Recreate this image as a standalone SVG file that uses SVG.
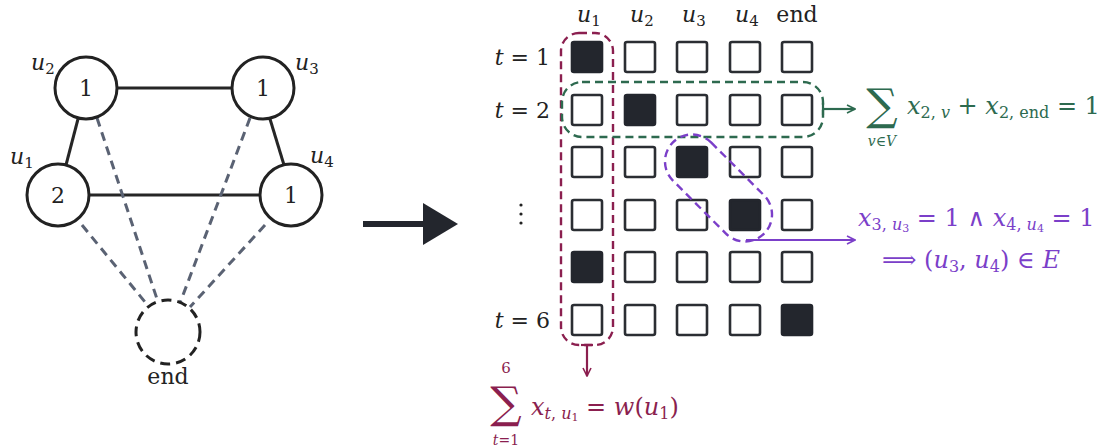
<svg xmlns="http://www.w3.org/2000/svg" width="1106" height="448" viewBox="0 0 1106 448">
<defs>
<style>
.node{fill:#fff;stroke:#222;stroke-width:3}
.edge{stroke:#262626;stroke-width:3;fill:none}
.dedge{stroke:#5a6273;stroke-width:3;fill:none;stroke-dasharray:9 6}
.cell{fill:#fff;stroke:#2b2e33;stroke-width:2.6}
.on{fill:#23262d;stroke:#23262d;stroke-width:2.6}
text{font-family:'DejaVu Serif',serif;fill:#222}
.i{font-style:italic}
.num{font-size:22px;text-anchor:middle}
.red{fill:#8b1f4f}
.grn{fill:#2d6a4f}
.pur{fill:#7b3fc9}
</style>
<marker id="ar" viewBox="0 0 10 10" refX="9" refY="5" markerWidth="10" markerHeight="10" markerUnits="userSpaceOnUse" orient="auto">
<path d="M1,1 L9,5 L1,9" fill="none" stroke="context-stroke" stroke-width="1.6"/>
</marker>
</defs>
<rect width="1106" height="448" fill="#fff"/>

<g id="connectors">
<line class="edge" x1="118" y1="88" x2="231" y2="88"/>
<line class="edge" x1="90" y1="195" x2="259" y2="195"/>
<line class="edge" x1="78" y1="119" x2="66" y2="165"/>
<line class="edge" x1="270" y1="119" x2="284" y2="165"/>
<line class="dedge" x1="97" y1="118" x2="158" y2="302"/>
<line class="dedge" x1="250" y1="118" x2="180" y2="303"/>
<line class="dedge" x1="82" y1="225" x2="145" y2="302"/>
<line class="dedge" x1="265" y1="225" x2="190" y2="307"/>
</g>

<g id="u2"><circle class="node" cx="86" cy="88" r="31"/><text class="num" x="86" y="96">1</text>
<text class="i" x="31" y="70" font-size="22">u<tspan font-size="15" dy="4" font-style="normal">2</tspan></text></g>
<g id="u3"><circle class="node" cx="263" cy="88" r="31"/><text class="num" x="263" y="96">1</text>
<text class="i" x="295" y="70" font-size="22">u<tspan font-size="15" dy="4" font-style="normal">3</tspan></text></g>
<g id="u1"><circle class="node" cx="58" cy="195" r="31"/><text class="num" x="58" y="203">2</text>
<text class="i" x="10" y="164" font-size="22">u<tspan font-size="15" dy="4" font-style="normal">1</tspan></text></g>
<g id="u4"><circle class="node" cx="291" cy="195" r="31"/><text class="num" x="291" y="203">1</text>
<text class="i" x="310" y="163" font-size="22">u<tspan font-size="15" dy="4" font-style="normal">4</tspan></text></g>
<g id="end"><circle cx="168" cy="332" r="32" fill="#fff" stroke="#222" stroke-width="3" stroke-dasharray="10 6"/>
<text x="168" y="384" font-size="22" text-anchor="middle">end</text></g>

<g id="big-arrow">
<rect x="363" y="221" width="62" height="6" fill="#23262d"/>
<polygon points="423,203 458,224 423,245" fill="#23262d"/>
</g>

<g id="headers">
<text class="i" x="577" y="22" font-size="22">u<tspan font-size="15" dy="4" font-style="normal">1</tspan></text>
<text class="i" x="630" y="22" font-size="22">u<tspan font-size="15" dy="4" font-style="normal">2</tspan></text>
<text class="i" x="682" y="22" font-size="22">u<tspan font-size="15" dy="4" font-style="normal">3</tspan></text>
<text class="i" x="735" y="22" font-size="22">u<tspan font-size="15" dy="4" font-style="normal">4</tspan></text>
<text x="797" y="22" font-size="22" text-anchor="middle">end</text>
<text x="550" y="65" font-size="22" text-anchor="end"><tspan font-style="italic">t</tspan> = 1</text>
<text x="550" y="118" font-size="22" text-anchor="end"><tspan font-style="italic">t</tspan> = 2</text>
<text x="550" y="328" font-size="22" text-anchor="end"><tspan font-style="italic">t</tspan> = 6</text>
<circle cx="521" cy="205" r="1.6" fill="#222"/><circle cx="521" cy="214" r="1.6" fill="#222"/><circle cx="521" cy="223" r="1.6" fill="#222"/>
</g>

<g id="grid">
<rect class="on" x="572" y="42" width="30" height="30" rx="2"/>
<rect class="cell" x="625" y="42" width="30" height="30" rx="2"/>
<rect class="cell" x="677" y="42" width="30" height="30" rx="2"/>
<rect class="cell" x="730" y="42" width="30" height="30" rx="2"/>
<rect class="cell" x="782" y="42" width="30" height="30" rx="2"/>
<rect class="cell" x="572" y="95" width="30" height="30" rx="2"/>
<rect class="on" x="625" y="95" width="30" height="30" rx="2"/>
<rect class="cell" x="677" y="95" width="30" height="30" rx="2"/>
<rect class="cell" x="730" y="95" width="30" height="30" rx="2"/>
<rect class="cell" x="782" y="95" width="30" height="30" rx="2"/>
<rect class="cell" x="572" y="147" width="30" height="30" rx="2"/>
<rect class="cell" x="625" y="147" width="30" height="30" rx="2"/>
<rect class="on" x="677" y="147" width="30" height="30" rx="2"/>
<rect class="cell" x="730" y="147" width="30" height="30" rx="2"/>
<rect class="cell" x="782" y="147" width="30" height="30" rx="2"/>
<rect class="cell" x="572" y="200" width="30" height="30" rx="2"/>
<rect class="cell" x="625" y="200" width="30" height="30" rx="2"/>
<rect class="cell" x="677" y="200" width="30" height="30" rx="2"/>
<rect class="on" x="730" y="200" width="30" height="30" rx="2"/>
<rect class="cell" x="782" y="200" width="30" height="30" rx="2"/>
<rect class="on" x="572" y="252" width="30" height="30" rx="2"/>
<rect class="cell" x="625" y="252" width="30" height="30" rx="2"/>
<rect class="cell" x="677" y="252" width="30" height="30" rx="2"/>
<rect class="cell" x="730" y="252" width="30" height="30" rx="2"/>
<rect class="cell" x="782" y="252" width="30" height="30" rx="2"/>
<rect class="cell" x="572" y="305" width="30" height="30" rx="2"/>
<rect class="cell" x="625" y="305" width="30" height="30" rx="2"/>
<rect class="cell" x="677" y="305" width="30" height="30" rx="2"/>
<rect class="cell" x="730" y="305" width="30" height="30" rx="2"/>
<rect class="on" x="782" y="305" width="30" height="30" rx="2"/>
</g>

<g id="red-group">
<rect x="561" y="33" width="52" height="312" rx="18" fill="none" stroke="#8b1f4f" stroke-width="2.4" stroke-dasharray="8 5"/>
<line x1="587" y1="345" x2="587" y2="376" stroke="#8b1f4f" stroke-width="2.2" marker-end="url(#ar)"/>
<line x1="581" y1="345" x2="593" y2="345" stroke="#8b1f4f" stroke-width="2.2"/>
<text class="red" x="506" y="373" font-size="15" text-anchor="middle">6</text>
<text class="red" x="506" y="418" font-size="44" text-anchor="middle">∑</text>
<text class="red" x="506" y="445" font-size="14" text-anchor="middle"><tspan font-style="italic">t</tspan>=1</text>
<text class="red" x="531" y="415" font-size="24"><tspan font-style="italic">x</tspan><tspan font-size="16" dy="4"><tspan font-style="italic">t</tspan>, <tspan font-style="italic">u</tspan></tspan><tspan font-size="11" dy="2">1</tspan><tspan dy="-6"> = </tspan><tspan font-style="italic">w</tspan>(<tspan font-style="italic">u</tspan><tspan font-size="16" dy="4">1</tspan><tspan dy="-4">)</tspan></text>
</g>

<g id="green-group">
<rect x="562" y="82" width="261" height="55" rx="20" fill="none" stroke="#2d6a4f" stroke-width="2.4" stroke-dasharray="8 5"/>
<line x1="823" y1="109" x2="855" y2="109" stroke="#2d6a4f" stroke-width="2.2" marker-end="url(#ar)"/>
<line x1="823" y1="103" x2="823" y2="115" stroke="#2d6a4f" stroke-width="2.2"/>
<text class="grn" x="882" y="120" font-size="44" text-anchor="middle">∑</text>
<text class="grn" x="882" y="146" font-size="14" text-anchor="middle"><tspan font-style="italic">v</tspan>∈<tspan font-style="italic">V</tspan></text>
<text class="grn" x="907" y="114" font-size="24"><tspan font-style="italic">x</tspan><tspan font-size="16" dy="4">2, <tspan font-style="italic">v</tspan></tspan><tspan dy="-4"> + </tspan><tspan font-style="italic">x</tspan><tspan font-size="16" dy="4">2, end</tspan><tspan dy="-4"> = 1</tspan></text>
</g>

<g id="purple-group">
<rect x="654" y="161" width="129" height="54" rx="27" fill="none" stroke="#7b3fc9" stroke-width="2.4" stroke-dasharray="8 5" transform="rotate(45 718.5 188)"/>
<line x1="746" y1="240" x2="855" y2="240" stroke="#7b3fc9" stroke-width="2.2" marker-end="url(#ar)"/>
<text class="pur" x="858" y="226" font-size="24"><tspan font-style="italic">x</tspan><tspan font-size="16" dy="4">3, <tspan font-style="italic">u</tspan></tspan><tspan font-size="11" dy="2">3</tspan><tspan dy="-6"> = 1 ∧ </tspan><tspan font-style="italic">x</tspan><tspan font-size="16" dy="4">4, <tspan font-style="italic">u</tspan></tspan><tspan font-size="11" dy="2">4</tspan><tspan dy="-6"> = 1</tspan></text>
<text class="pur" x="882" y="268" font-size="24">⟹ (<tspan font-style="italic">u</tspan><tspan font-size="16" dy="4">3</tspan><tspan dy="-4">, </tspan><tspan font-style="italic">u</tspan><tspan font-size="16" dy="4">4</tspan><tspan dy="-4">) ∈ </tspan><tspan font-style="italic">E</tspan></text>
</g>
</svg>
